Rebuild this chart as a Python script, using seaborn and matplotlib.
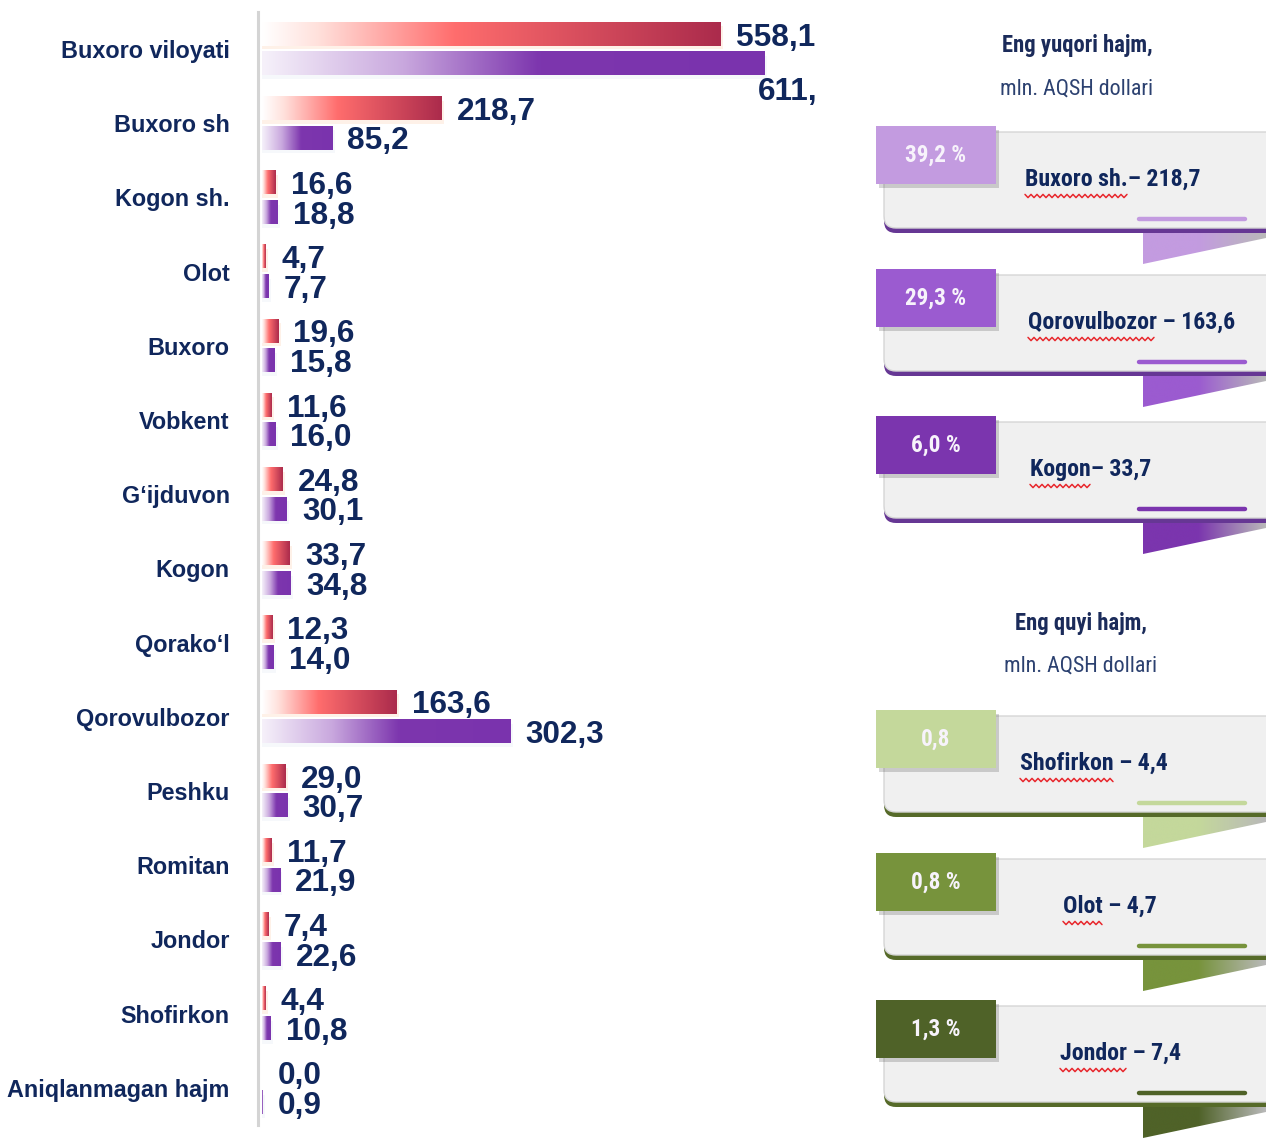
"""
Hududlar kesimida hajm, mln. AQSH dollari.

Chap tomonda: ikki davr bo'yicha gorizontal ustunli diagramma (gradientli ustunlar).
O'ng tomonda: eng yuqori va eng quyi hajmli hududlar kartochkalari.

Output: out.png
"""
import numpy as np
import pandas as pd
import matplotlib
matplotlib.use("Agg")
import matplotlib.pyplot as plt
import matplotlib.font_manager as fm
from matplotlib.colors import LinearSegmentedColormap
from matplotlib.patches import Rectangle, FancyBboxPatch, Polygon
import seaborn as sns

# ── data ─────────────────────────────────────────────────────────────────────

HUDUDLAR = ["Buxoro viloyati", "Buxoro sh", "Kogon sh.", "Olot", "Buxoro",
            "Vobkent", "G‘ijduvon", "Kogon", "Qorako‘l", "Qorovulbozor",
            "Peshku", "Romitan", "Jondor", "Shofirkon", "Aniqlanmagan hajm"]
DAVR_1 = [558.1, 218.7, 16.6, 4.7, 19.6, 11.6, 24.8, 33.7, 12.3, 163.6,
          29.0, 11.7, 7.4, 4.4, 0.0]
DAVR_2 = [611.5, 85.2, 18.8, 7.7, 15.8, 16.0, 30.1, 34.8, 14.0, 302.3,
          30.7, 21.9, 22.6, 10.8, 0.9]
DAVR_NOMI = ["1-davr", "2-davr"]

YUQORI_SARLAVHA = ["Eng yuqori hajm,", "mln. AQSH dollari"]
YUQORI_ULUSH = ["39,2 %", "29,3 %", "6,0 %"]
YUQORI_NOM = ["Buxoro sh.", "Qorovulbozor", "Kogon"]
YUQORI_MATN = ["Buxoro sh.– 218,7", "Qorovulbozor – 163,6", "Kogon– 33,7"]

QUYI_SARLAVHA = ["Eng quyi hajm,", "mln. AQSH dollari"]
QUYI_ULUSH = ["0,8", "0,8 %", "1,3 %"]
QUYI_NOM = ["Shofirkon", "Olot", "Jondor"]
QUYI_MATN = ["Shofirkon – 4,4", "Olot – 4,7", "Jondor – 7,4"]

# ── style ────────────────────────────────────────────────────────────────────

NAVY = "#10275c"
RED_CMAP = LinearSegmentedColormap.from_list(
    "qizil", [(0, "#ffffff"), (0.12, "#ffe1dc"), (0.42, "#ff6d6d"), (1, "#ab2b4c")])
PURPLE_CMAP = LinearSegmentedColormap.from_list(
    "binafsha", [(0, "#f6f1fa"), (0.28, "#c9a8de"), (0.55, "#7d36ae"), (1, "#7a33ad")])
GLOW = ["#fcd3b5", "#e3eaf4"]

TOP_COLORS = ["#c39be0", "#9b5bd0", "#7b35ae"]
TOP_EDGE = "#663794"
LOW_COLORS = ["#c4d89b", "#77933c", "#4f6228"]
LOW_EDGE = "#566a29"

W, H = 1266, 1138
PX = 0.822          # pixels per unit on the bar axis

sns.set_theme(style="white")
plt.rcParams["font.family"] = ["Liberation Sans", "DejaVu Sans"]

# narrow face for the right-hand cards
_names = {f.name for f in fm.fontManager.ttflist}
if "Liberation Sans Narrow" in _names:
    NARROW, NSCALE = dict(family="Liberation Sans Narrow"), 1.0
elif "Roboto Condensed" in _names:
    NARROW, NSCALE = dict(family="Roboto Condensed"), 0.93
elif any(f.name == "DejaVu Sans" and str(f.stretch) == "condensed"
         for f in fm.fontManager.ttflist):
    NARROW, NSCALE = dict(family="DejaVu Sans", stretch="condensed"), 0.85
else:
    NARROW, NSCALE = dict(family="Roboto"), 0.82


def fmt(v):
    return f"{v:.1f}".replace(".", ",")


# ── bar chart ────────────────────────────────────────────────────────────────

fig = plt.figure(figsize=(W / 100, H / 100), dpi=100)
fig.patch.set_facecolor("white")

ax = fig.add_axes([258 / W, 1 - 1125 / H, (815 - 258) / W, 1113 / H])

n = len(HUDUDLAR)
df = pd.DataFrame({"hudud": HUDUDLAR * 2,
                   "qiymat": DAVR_1 + DAVR_2,
                   "davr": [DAVR_NOMI[0]] * n + [DAVR_NOMI[1]] * n})

sns.barplot(data=df, x="qiymat", y="hudud", hue="davr", orient="h",
            order=HUDUDLAR, hue_order=DAVR_NOMI, width=0.8, dodge=True,
            palette=["#c0394f", "#7b35ae"], errorbar=None, legend=False, ax=ax)

BAR_H = 0.31
grad = np.linspace(0, 1, 256).reshape(1, -1)
series = [(DAVR_1, RED_CMAP), (DAVR_2, PURPLE_CMAP)]

for level, cont in enumerate(ax.containers[:2]):
    vals, cmap = series[level]
    for p in cont.patches:
        x0, w = p.get_x(), p.get_width()
        yc = p.get_y() + p.get_height() / 2
        idx = int(round(yc))
        p.set_visible(False)
        if w > 0:
            # soft glow under the bar
            ax.add_patch(Rectangle((x0, yc - BAR_H / 2 + 0.05), w + 3, BAR_H,
                                   fc=GLOW[level], ec="none", alpha=0.3, zorder=1))
            ax.imshow(grad, cmap=cmap, aspect="auto", interpolation="bicubic",
                      extent=(x0, x0 + w, yc + BAR_H / 2, yc - BAR_H / 2), zorder=2)
        v = vals[idx]
        if v > 600:
            # label does not fit to the right: tuck it under the bar end
            ax.annotate(fmt(v), xy=(x0 + w, yc), xytext=(-5, -20.5),
                        textcoords="offset points", ha="left", va="center",
                        fontsize=22.7, fontweight="bold", color=NAVY, clip_on=True)
        else:
            ax.annotate(fmt(v), xy=(x0 + w, yc), xytext=(11, -2.4),
                        textcoords="offset points", ha="left", va="center",
                        fontsize=22.7, fontweight="bold", color=NAVY,
                        annotation_clip=False)

ax.set_xlim(-4 / PX, (815 - 262) / PX)
ax.set_ylim(n - 0.5, -0.5)
ax.set_xlabel("")
ax.set_ylabel("")
ax.set_xticks([])
ax.tick_params(axis="y", length=0, pad=20.3)
for lab in ax.get_yticklabels():
    lab.set_fontsize(16.8)
    lab.set_fontweight("bold")
    lab.set_color(NAVY)
for s in ["top", "right", "bottom"]:
    ax.spines[s].set_visible(False)
ax.spines["left"].set_color("#d4d4d4")
ax.spines["left"].set_linewidth(2.2)
ax.set_facecolor("none")

# ── right-hand cards ─────────────────────────────────────────────────────────

ov = fig.add_axes([0, 0, 1, 1], zorder=3)
ov.set_xlim(0, W)
ov.set_ylim(H, 0)
ov.axis("off")
renderer = fig.canvas.get_renderer()


def text_width(s, size, weight):
    t = ov.text(0, 0, s, fontsize=size, fontweight=weight, **NARROW)
    bb = t.get_window_extent(renderer)
    t.remove()
    return bb.width


def draw_card(top, ulush, matn, nom, color, edge, text_x):
    # ribbon behind the card, fading to grey on the right
    rib = Polygon([(1143, top + 104), (1266, top + 104), (1266, top + 112),
                   (1143, top + 138)], closed=True, fc="none", ec="none", zorder=1)
    ov.add_patch(rib)
    rcmap = LinearSegmentedColormap.from_list("r", [(0, color), (0.45, color), (1, "#b9b9b9")])
    im = ov.imshow(grad, cmap=rcmap, aspect="auto", interpolation="bicubic",
                   extent=(1143, 1266, top + 138, top + 104), zorder=1)
    im.set_clip_path(rib)
    # card body with coloured lower edge
    ov.add_patch(FancyBboxPatch((884, top + 11), 430, 96,
                                boxstyle="round,pad=0,rounding_size=12",
                                fc=edge, ec="none", zorder=2))
    ov.add_patch(FancyBboxPatch((884, top + 6), 430, 96,
                                boxstyle="round,pad=0,rounding_size=12",
                                fc="#f0f0f0", ec="#d6d6d6", lw=1, zorder=3))
    ov.plot([1139, 1245], [top + 93, top + 93], color=color, lw=3.2,
            solid_capstyle="round", zorder=4)
    # tag
    ov.add_patch(Rectangle((879, top + 4), 120, 58, fc="black", alpha=0.16,
                           ec="none", zorder=4))
    ov.add_patch(Rectangle((876, top), 120, 58, fc=color, ec="none", zorder=5))
    ov.text(936, top + 29, ulush, ha="center", va="center", color="#f7f3fb",
            fontsize=18 * NSCALE, fontweight="bold", zorder=6, **NARROW)
    # label with spell-check squiggle under the name
    ov.text(text_x, top + 53, matn, ha="left", va="center", color=NAVY,
            fontsize=18.5 * NSCALE, fontweight="bold", zorder=6, **NARROW)
    wn = text_width(nom, 18.5 * NSCALE, "bold")
    xs = np.arange(text_x, text_x + wn, 3.0)
    ys = top + 70 + np.where(np.arange(len(xs)) % 2 == 0, -1.6, 1.6)
    ov.plot(xs, ys, color="#e8282d", lw=1.1, zorder=6)


def draw_header(lines, cx, y0, y1):
    ov.text(cx, y0, lines[0], ha="center", va="center", color="#1b2b5a",
            fontsize=17.5 * NSCALE, fontweight="bold", **NARROW)
    ov.text(cx, y1, lines[1], ha="center", va="center", color="#2c4170",
            fontsize=17 * NSCALE, **NARROW)


draw_header(YUQORI_SARLAVHA, 1077, 45, 89)
for top, ul, mt, nm, col, tx in zip([126, 269, 416], YUQORI_ULUSH, YUQORI_MATN,
                                    YUQORI_NOM, TOP_COLORS, [1025, 1028, 1030]):
    draw_card(top, ul, mt, nm, col, TOP_EDGE, tx)

draw_header(QUYI_SARLAVHA, 1081, 623, 666)
for top, ul, mt, nm, col, tx in zip([710, 853, 1000], QUYI_ULUSH, QUYI_MATN,
                                    QUYI_NOM, LOW_COLORS, [1020, 1063, 1060]):
    draw_card(top, ul, mt, nm, col, LOW_EDGE, tx)

fig.savefig("out.png", dpi=100)
